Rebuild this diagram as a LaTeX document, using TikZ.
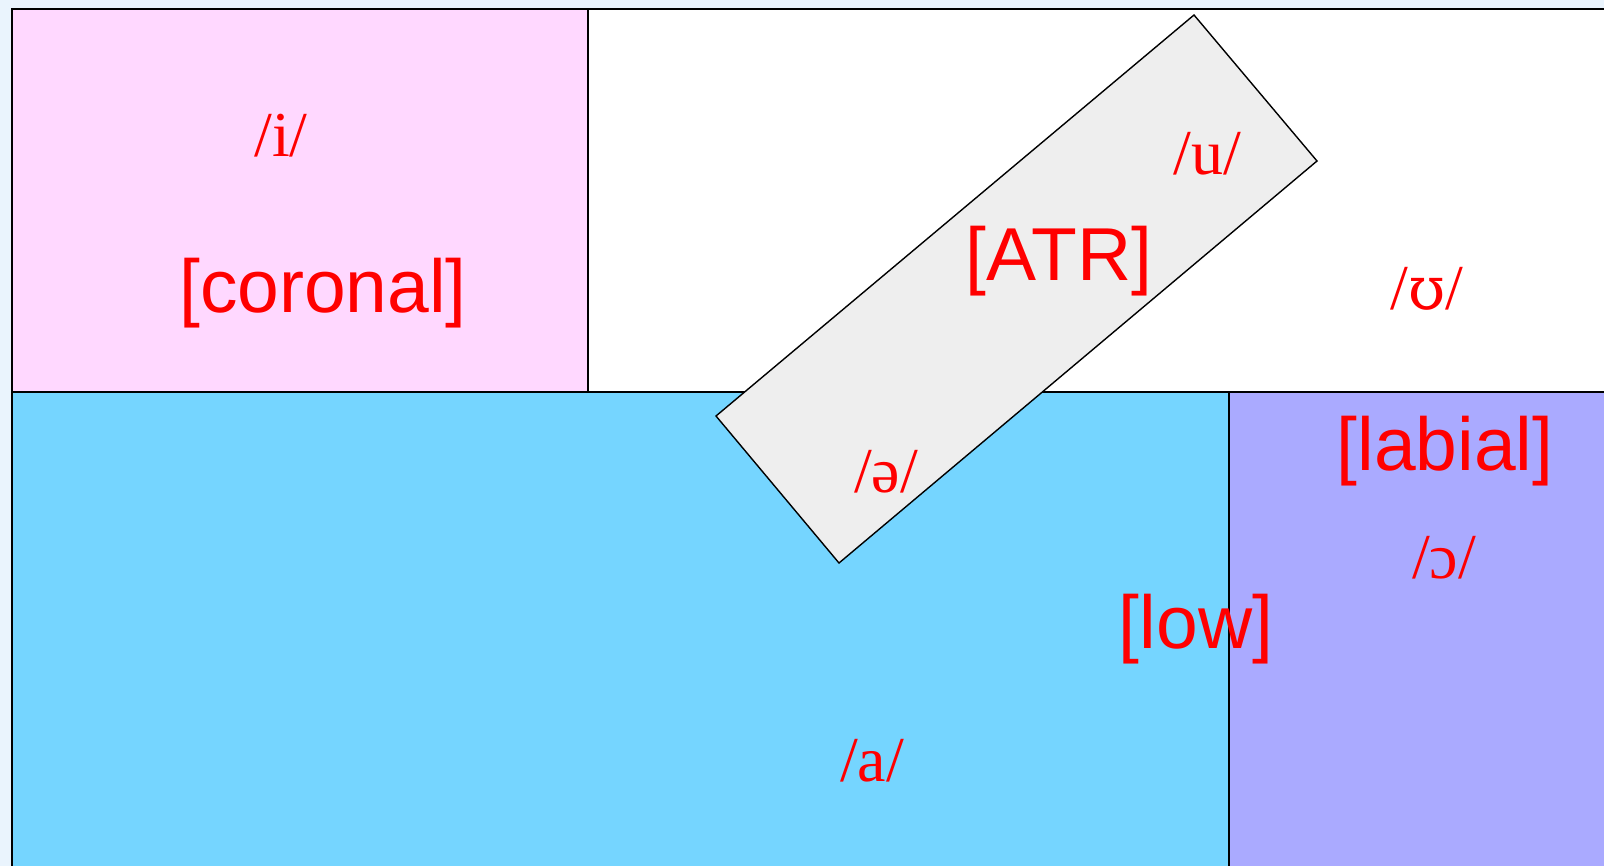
\documentclass[tikz,border=0pt]{standalone}
\usepackage{fontspec}
\setmainfont{Liberation Serif}
\setsansfont{Liberation Sans}
\newfontfamily\ipaalt{DejaVu Serif}
\definecolor{bgc}{RGB}{234,244,253}
\definecolor{pinkc}{RGB}{255,216,255}
\definecolor{bluec}{RGB}{117,213,255}
\definecolor{purplec}{RGB}{170,170,255}
\definecolor{grayc}{RGB}{238,238,238}
\tikzset{
  region/.style={draw=black, line width=1.6pt},
  phon/.style={text=red, font=\fontsize{64}{70}\selectfont\rmfamily, inner sep=0pt},
  feat/.style={text=red, font=\fontsize{75}{80}\selectfont\sffamily, inner sep=0pt},
}
\begin{document}
\begin{tikzpicture}[x=1pt,y=-1pt]
\useasboundingbox (0,0) rectangle (1604,866);
\fill[bgc] (0,0) rectangle (1604,866);
% regions
\fill[white] (588,9) rectangle (1604,392);
\fill[pinkc] (12,9) rectangle (588,392);
\fill[bluec] (12,392) rectangle (1229,866);
\fill[purplec] (1229,392) rectangle (1604,866);
\draw[region] (1604,9) -- (12,9) -- (12,866);
\draw[region] (12,392) -- (1604,392);
\draw[region] (588,9) -- (588,392);
\draw[region] (1229,392) -- (1229,866);
% ATR box
\coordinate (p1) at (716,416);
\coordinate (p2) at (1194,15);
\coordinate (p3) at (1317,161);
\coordinate (p4) at (839,563);
\draw[fill=grayc, draw=black, line width=1.4pt] (p1) -- (p2) -- (p3) -- (p4) -- cycle;
% labels
\node[phon] (i) at (281,136) {/i/};
\node[feat] (cor) at (323,293) {[coronal]};
\node[phon] (u) at (1207,154) {/u/};
\node[feat] (atr) at (1059,261) {[ATR]};
\node[phon] (upsilon) at (1427,289) {/{\ipaalt\fontsize{60}{70}\selectfont ʊ}/};
\node[phon] (schwa) at (886,472) {/ə/};
\node[feat] (lab) at (1445,451) {[labial]};
\node[phon] (openo) at (1444,558) {/ɔ/};
\node[feat] (low) at (1196,629) {[low]};
\node[phon] (a) at (872,761) {/a/};
\end{tikzpicture}
\end{document}
